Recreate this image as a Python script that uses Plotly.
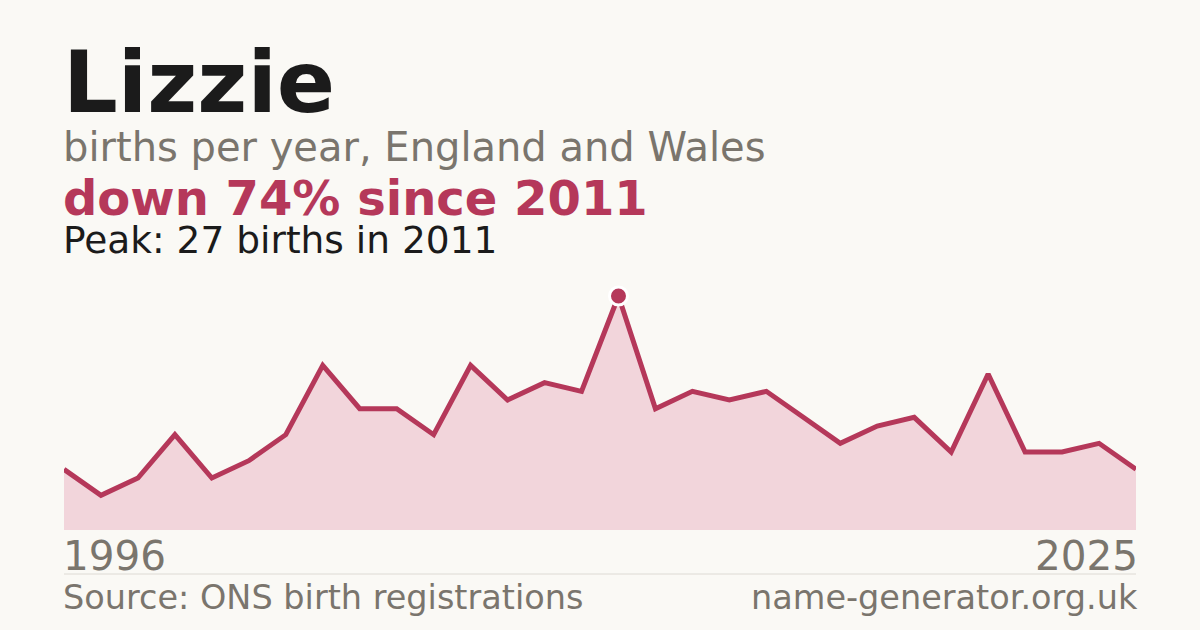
import plotly.graph_objects as go

name = "Lizzie"
years = list(range(1996, 2026))
births = [7, 4, 6, 11, 6, 8, 11, 19, 14, 14, 11, 19, 15, 17, 16, 27,
          14, 16, 15, 16, 13, 10, 12, 13, 9, 18, 9, 9, 10, 7]
subtitle = "births per year, England and Wales"
source = "Source: ONS birth registrations"
site = "name-generator.org.uk"

BG = "#faf9f5"
CRIMSON = "#b5385a"
FILL = "#f2d5db"
DARK = "#1b1b1b"
GREY = "#7a756d"
FONT = "DejaVu Sans"

peak = max(births)
peak_year = years[births.index(peak)]
drop = round((peak - births[-1]) / peak * 100)

W, H = 1200, 630
PL, PR, PT, PB = 64, 1136, 280, 530  # plot area pixels


def py(pix):
    return (PB - pix) / (PB - PT)


def px(pix):
    return (pix - PL) / (PR - PL)


fig = go.Figure()
fig.add_trace(go.Scatter(
    x=years, y=births, mode="lines", fill="tozeroy",
    fillcolor=FILL, line=dict(color=CRIMSON, width=5),
    hoverinfo="skip", showlegend=False))
fig.add_trace(go.Scatter(
    x=[peak_year], y=[peak], mode="markers",
    marker=dict(size=18, color=CRIMSON, line=dict(color="white", width=3)),
    hoverinfo="skip", showlegend=False))

ymax = peak * (PB - PT) / (PB - 296)

LX, RX = PL - 2.5, PR + 2.5
anns = [
    (name, 86, DARK, True, 111, LX, "left"),
    (subtitle, 40, GREY, False, 160, LX, "left"),
    (f"down {drop}% since {peak_year}", 48, CRIMSON, True, 214, LX, "left"),
    (f"Peak: {peak} births in {peak_year}", 37.5, DARK, False, 253, LX, "left"),
    (str(years[0]), 40.5, GREY, False, 570, LX, "left"),
    (str(years[-1]), 40.5, GREY, False, 570, RX, "right"),
    (source, 33.5, GREY, False, 609, LX, "left"),
    (site, 33.5, GREY, False, 609, RX, "right"),
]
for text, size, color, bold, base, x, anchor in anns:
    bottom = base + 0.24 * size + 1
    fig.add_annotation(
        text=f"<b>{text}</b>" if bold else text,
        xref="paper", yref="paper", x=px(x), y=py(bottom),
        xanchor=anchor, yanchor="bottom", showarrow=False,
        font=dict(family=FONT, size=size, color=color), borderpad=0)

fig.add_shape(type="line", xref="paper", yref="paper",
              x0=0, x1=1, y0=py(574), y1=py(574),
              line=dict(color="#dddad4", width=1))

fig.update_layout(
    width=W, height=H, paper_bgcolor=BG, plot_bgcolor=BG,
    margin=dict(l=PL, r=W - PR, t=PT, b=H - PB, pad=0),
    xaxis=dict(range=[years[0], years[-1]], visible=False, fixedrange=True),
    yaxis=dict(range=[0, ymax], visible=False, fixedrange=True),
    font=dict(family=FONT),
)
fig.write_html(
    "out.html",
    config={"displayModeBar": False},
    post_script="document.body.style.margin='0';"
                "document.body.style.background='" + BG + "';",
)
